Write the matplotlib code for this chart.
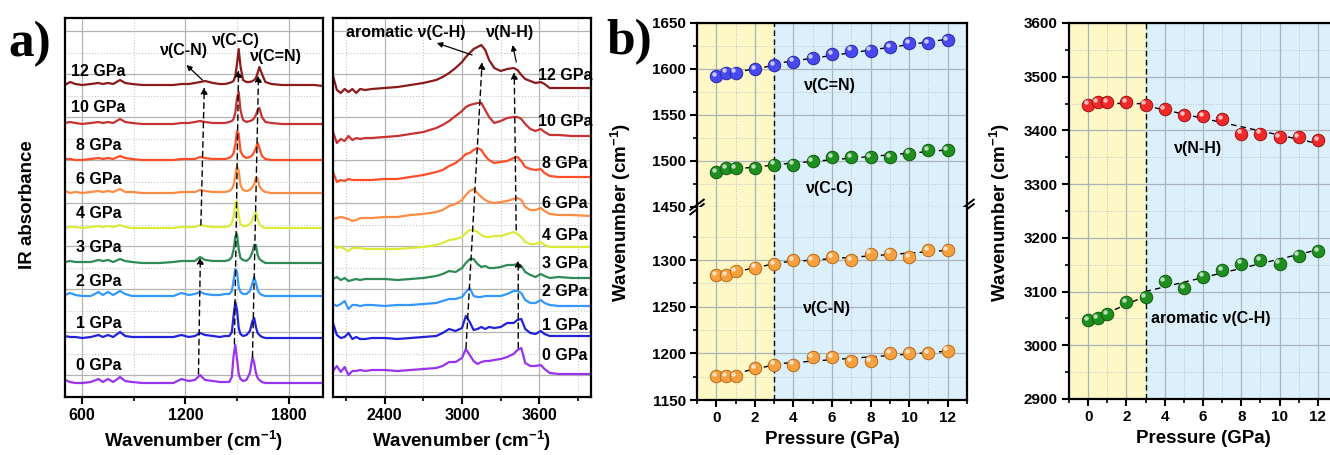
import numpy as np
import matplotlib.pyplot as plt
from matplotlib import transforms
from matplotlib.ticker import MultipleLocator, FixedLocator

plt.rcParams['font.family'] = ['Liberation Sans', 'DejaVu Sans']
plt.rcParams['font.weight'] = 'bold'
plt.rcParams['axes.labelweight'] = 'bold'
plt.rcParams['mathtext.fontset'] = 'custom'
plt.rcParams['mathtext.rm'] = 'Liberation Sans:bold'
plt.rcParams['mathtext.bf'] = 'Liberation Sans:bold'
plt.rcParams['mathtext.default'] = 'bf'

# ---------------- a) IR spectra ----------------
ir_labels = ['0 GPa', '1 GPa', '2 GPa', '3 GPa', '4 GPa', '6 GPa', '8 GPa', '10 GPa', '12 GPa']
ir_colors = ['#9933ee', '#2222dd', '#3399ff', '#2e8b57', '#dcea3a',
             '#ff8c42', '#ff4d26', '#c83232', '#8b1a1a']

# low wavenumber window (cm-1) and band heights above each baseline
wn_low = [500, 530, 560, 600, 650, 695, 720, 750, 780, 820, 850, 890, 950, 1050, 1130,
          1177, 1220, 1255, 1285, 1315, 1360, 1400, 1430, 1455, 1470, 1480, 1490, 1500,
          1510, 1520, 1535, 1555, 1575, 1590, 1600, 1610, 1620, 1630, 1645, 1665, 1700,
          1760, 1850, 1950, 2000]
low_0 = [3, 1, 0, 0, 1, 4, 1, 4, 1, 6, 2, 1, 0, 0, 0, 4, 2, 3, 8, 3, 2, 1, 1, 1, 6, 27, 38, 24, 9, 4,
         2, 3, 10, 26, 20, 10, 5, 3, 1, 0, 0, 0, 0, 0, 0]
low_1 = [2, 1, 1, 0, 1, 3, 1, 3, 1, 6, 2, 1, 1, 1, 1, 3, 1, 2, 5, 3, 2, 1, 2, 2, 6, 22, 36, 28, 10, 4,
         2, 3, 7, 17, 20, 11, 5, 3, 1, 0, 0, 0, 0, 0, 0]
low_2 = [1, 3, 1, 0, 0, 4, 1, 4, 1, 5, 2, 0, 0, 0, 0, 3, 1, 2, 4, 2, 1, 1, 2, 2, 5, 15, 27, 24, 9, 4,
         2, 2, 5, 13, 19, 13, 6, 3, 1, 0, 0, 0, 0, 0, 0]
low_3 = [1, 2, 1, 1, 1, 3, 2, 3, 1, 4, 2, 1, 0, 0, 1, 2, 2, 2, 6, 3, 2, 2, 2, 3, 6, 13, 26, 29, 14, 5,
         3, 2, 5, 11, 18, 18, 8, 4, 2, 0, 0, 0, 0, 0, 0]
low_4 = [0, 1, 1, 0, 1, 2, 1, 2, 1, 3, 1, 0, 0, 0, 0, 1, 1, 1, 3, 2, 1, 1, 1, 2, 5, 11, 24, 27, 12, 4,
         2, 2, 4, 8, 13, 16, 9, 4, 1, 0, 0, 0, 0, 0, 0]
low_6 = [2, 0, 1, 0, 1, 2, 1, 2, 1, 4, 1, 1, 0, 0, 0, 1, 1, 1, 3, 2, 1, 1, 1, 2, 4, 8, 17, 27, 22, 8,
         3, 2, 3, 6, 9, 15, 15, 7, 3, 1, 0, 0, 0, 0, 0]
low_8 = [1, 1, 0, 0, 1, 2, 1, 2, 1, 4, 2, 1, 0, 0, 0, 1, 1, 1, 3, 2, 1, 1, 1, 2, 4, 7, 15, 29, 26, 9,
         4, 2, 3, 5, 8, 12, 17, 12, 4, 1, 0, 0, 0, 0, 0]
low_10 = [1, 2, 1, 0, 1, 2, 1, 2, 1, 5, 2, 1, 0, 0, 0, 1, 1, 2, 3, 2, 1, 1, 1, 2, 3, 5, 11, 26, 32, 14,
          4, 2, 3, 4, 6, 9, 14, 16, 7, 2, 1, 0, 0, 0, 0]
low_12 = [0, 3, 1, 0, 1, 2, 1, 2, 1, 5, 2, 1, 0, 0, 0, 1, 1, 2, 3, 4, 2, 1, 1, 2, 3, 4, 9, 21, 36, 19,
          5, 3, 3, 4, 5, 7, 12, 18, 11, 3, 1, 0, 0, 0, -1]
low_offsets = [14, 59, 101, 134, 169, 204, 237, 273, 312]

# high wavenumber window
wn_high = [2000, 2030, 2060, 2090, 2120, 2150, 2180, 2210, 2250, 2300, 2400, 2500, 2600, 2700,
           2800, 2850, 2900, 2950, 3000, 3030, 3060, 3090, 3120, 3150, 3180, 3210, 3250, 3300,
           3350, 3400, 3430, 3460, 3490, 3530, 3570, 3610, 3640, 3680, 3750, 3850, 4000]
high_0 = [0, 5, -1, 4, -4, 0, 0, 1, 0, 1, 1, 0, 1, 2, 3, 5, 9, 9, 13, 22, 16, 10, 7, 9, 10, 10, 11, 12,
          14, 17, 21, 23, 8, 5, 5, 6, 2, -2, -3, -3, -3]
high_1 = [16, 4, 1, 2, 6, 0, 2, 0, 0, 1, 1, 0, 1, 2, 3, 6, 10, 8, 11, 23, 17, 9, 10, 12, 10, 12, 11, 12,
          16, 16, 19, 20, 10, 6, 5, 8, 5, 3, 3, 3, 3]
high_2 = [2, 0, 2, 5, -3, 1, 1, 0, 1, 1, 0, 1, 1, 2, 3, 5, 7, 7, 9, 14, 18, 10, 9, 9, 10, 10, 10, 10,
          12, 15, 15, 13, 6, 3, 3, 6, 3, 1, 0, 0, 0]
high_3 = [1, 3, 0, 2, -1, 0, 1, 0, 1, 1, 1, 0, 1, 2, 4, 6, 9, 8, 12, 17, 21, 21, 16, 13, 14, 12, 12, 13,
          15, 15, 16, 14, 8, 5, 3, 6, 4, 2, 3, 2, 2]
high_4 = [4, 1, 2, 0, -2, 1, 1, 1, 0, 0, 0, 0, 1, 2, 4, 6, 9, 10, 12, 16, 19, 19, 17, 14, 12, 12, 13, 13,
          15, 17, 15, 12, 7, 5, 5, 7, 4, 2, 2, 2, 2]
high_6 = [0, 1, 2, 1, 0, -2, -1, 1, 1, 1, 2, 2, 4, 5, 7, 9, 13, 15, 19, 24, 28, 30, 26, 22, 19, 17, 16,
          17, 18, 20, 21, 19, 12, 9, 9, 11, 8, 5, 4, 4, 3]
high_8 = [8, -2, 0, -1, 1, 0, 0, 0, 0, 0, 1, 1, 3, 5, 8, 10, 14, 17, 22, 26, 27, 30, 32, 30, 24, 20, 17,
          18, 19, 22, 23, 19, 13, 11, 10, 11, 7, 4, 3, 3, 3]
high_10 = [6, -5, -1, -3, 2, -2, 0, -1, 0, 0, 1, 2, 4, 6, 10, 13, 17, 22, 27, 31, 33, 34, 35, 35, 28,
           21, 15, 17, 20, 21, 21, 19, 14, 9, 7, 9, 6, 3, 3, 2, 2]
high_12 = [14, 0, -3, 1, -2, 1, -3, 1, 0, 1, 2, 3, 5, 7, 10, 13, 17, 22, 28, 33, 37, 41, 43, 45, 40,
           30, 22, 19, 21, 22, 20, 15, 11, 9, 7, 8, 6, 2, 2, 2, 2]
high_offsets = [26, 58, 91, 117, 148, 178, 217, 259, 307]

low_spectra = [low_0, low_1, low_2, low_3, low_4, low_6, low_8, low_10, low_12]
high_spectra = [high_0, high_1, high_2, high_3, high_4, high_6, high_8, high_10, high_12]

# ---------------- b) band positions vs pressure ----------------
pressure = [0, 0.5, 1, 2, 3, 4, 5, 6, 7, 8, 9, 10, 11, 12]
nu_cn_double = [1592, 1596, 1596, 1600, 1604, 1608, 1612, 1616, 1620, 1620, 1624, 1628, 1628, 1631]
nu_cc = [1488, 1492, 1492, 1492, 1496, 1496, 1500, 1504, 1504, 1504, 1504, 1508, 1512, 1512]
nu_cn_a = [1284, 1284, 1288, 1292, 1296, 1300, 1300, 1303, 1300, 1307, 1307, 1303, 1311, 1311]
nu_cn_b = [1176, 1176, 1176, 1184, 1188, 1188, 1196, 1196, 1192, 1192, 1200, 1200, 1200, 1203]
nu_nh = [3448, 3452, 3452, 3452, 3448, 3440, 3428, 3426, 3421, 3394, 3394, 3388, 3387, 3382]
nu_ch = [3047, 3050, 3058, 3080, 3090, 3120, 3107, 3128, 3140, 3152, 3159, 3152, 3167, 3175]
phase_split = 3

W, H = 1330, 455


def box(x0, y0, x1, y1):
    # pixel box, top-left origin -> figure fraction rect
    return [x0 / W, 1 - y1 / H, (x1 - x0) / W, (y1 - y0) / H]


fig = plt.figure(figsize=(W / 100, H / 100), dpi=100)

grid_major = [22, 65, 108, 151, 194, 237, 280, 323, 366]
grid_minor = [43, 86, 129, 172, 215, 258, 301, 344]


def spectra_axes(rect, xlim, majors, minor_step):
    ax = fig.add_axes(rect)
    ax.set_xlim(*xlim)
    ax.set_ylim(0, 379)
    ax.xaxis.set_major_locator(FixedLocator(majors))
    ax.xaxis.set_minor_locator(MultipleLocator(minor_step))
    ax.yaxis.set_major_locator(FixedLocator(grid_major))
    ax.yaxis.set_minor_locator(FixedLocator(grid_minor))
    ax.grid(which='major', color='#b4b4b4', lw=0.9)
    ax.grid(which='minor', color='#c8c8c8', lw=0.8, ls=':')
    ax.set_axisbelow(True)
    ax.tick_params(axis='x', which='major', direction='out', length=5, width=1.5, labelsize=11.5, pad=3)
    ax.tick_params(axis='x', which='minor', direction='out', length=3, width=1.2)
    ax.tick_params(axis='y', which='both', length=0, labelleft=False)
    for s in ax.spines.values():
        s.set_linewidth(1.6)
    ax.set_xlabel('Wavenumber (cm$^{-1}$)', fontsize=13.5, labelpad=4)
    return ax


def dashed_arrow(ax, tail, head):
    ax.annotate('', xy=head, xytext=tail,
                arrowprops=dict(arrowstyle='-|>', ls=(0, (4, 3)), lw=1.0, color='black',
                                mutation_scale=10, shrinkA=0, shrinkB=0))


def thin_arrow(ax, tail, head):
    ax.annotate('', xy=head, xytext=tail,
                arrowprops=dict(arrowstyle='-|>', lw=0.9, color='black',
                                mutation_scale=8, shrinkA=0, shrinkB=0))


# a) low window
axA = spectra_axes(box(65, 18, 323, 397), (500, 2000), [600, 1200, 1800], 300)
for lab, col, off, ys in zip(ir_labels, ir_colors, low_offsets, low_spectra):
    axA.plot(wn_low, np.array(ys) + off, color=col, lw=1.6)
lab_x = [565, 565, 565, 565, 565, 565, 565, 536, 536]
lab_y = [32, 73, 116, 149, 184, 218, 251, 289, 326]
for lab, x, y in zip(ir_labels, lab_x, lab_y):
    axA.text(x, y, lab, fontsize=11.5, ha='left', va='center')
axA.text(1194, 347, 'ν(C-N)', fontsize=11.5, ha='center', va='center')
axA.text(1491, 357, 'ν(C-C)', fontsize=11.5, ha='center', va='center')
axA.text(1724, 340, 'ν(C=N)', fontsize=11.5, ha='center', va='center')
thin_arrow(axA, (1299, 317), (1206, 332))
dashed_arrow(axA, (1276, 23), (1287, 140))
dashed_arrow(axA, (1290, 172), (1310, 310))
dashed_arrow(axA, (1485, 53), (1509, 327))
dashed_arrow(axA, (1590, 40), (1625, 322))

# a) high window
axB = spectra_axes(box(333, 18, 591, 397), (2000, 4000), [2400, 3000, 3600], 300)
for lab, col, off, ys in zip(ir_labels, ir_colors, high_offsets, high_spectra):
    axB.plot(wn_high, np.array(ys) + off, color=col, lw=1.6)
lab_x = [3623, 3623, 3623, 3623, 3623, 3623, 3623, 3592, 3592]
lab_y = [42, 71, 105, 134, 162, 194, 233, 275, 322]
for lab, x, y in zip(ir_labels, lab_x, lab_y):
    axB.text(x, y, lab, fontsize=11.5, ha='left', va='center')
axB.text(2564, 364, 'aromatic ν(C-H)', fontsize=11.5, ha='center', va='center')
axB.text(3374, 364, 'ν(N-H)', fontsize=11.5, ha='center', va='center')
thin_arrow(axB, (3078, 342), (2805, 354))
thin_arrow(axB, (3421, 335), (3392, 352))
dashed_arrow(axB, (3031, 49), (3156, 335))
dashed_arrow(axB, (3436, 49), (3436, 137))
dashed_arrow(axB, (3420, 167), (3405, 325))

fig.text(28 / W, 1 - 205 / H, 'IR absorbance', rotation=90, fontsize=13.5, ha='center',
         va='center', weight='bold')


# b) helpers
def pressure_axes(rect, ylim, yticks, yminor, show_x=True):
    ax = fig.add_axes(rect)
    ax.set_xlim(-1, 13)
    ax.set_ylim(*ylim)
    ax.xaxis.set_major_locator(MultipleLocator(2))
    ax.xaxis.set_minor_locator(MultipleLocator(1))
    ax.yaxis.set_major_locator(FixedLocator(yticks))
    ax.yaxis.set_minor_locator(FixedLocator(yminor))
    ax.axvspan(-1, phase_split, color='#fdf8c6', lw=0, zorder=0.1)
    ax.axvspan(phase_split, 13, color='#dcf0fc', lw=0, zorder=0.1)
    ax.axvline(phase_split, color='black', lw=1.0, ls=(0, (4, 2.5)), zorder=2)
    ax.grid(which='major', color='#a9b3ba', lw=0.9)
    ax.grid(which='minor', color='#b9c3ca', lw=0.7, ls=':')
    ax.set_axisbelow(True)
    ax.tick_params(which='major', direction='out', length=5, width=1.5, labelsize=11, pad=3)
    ax.tick_params(which='minor', direction='out', length=3, width=1.2)
    ax.tick_params(top=False, right=False, which='both')
    if not show_x:
        ax.tick_params(axis='x', which='both', bottom=False, labelbottom=False)
    for s in ax.spines.values():
        s.set_linewidth(1.6)
    return ax


def balls(ax, x, y, color, edge):
    ax.plot(x, y, 'o', ms=9, mfc=color, mec=edge, mew=0.7, zorder=4, clip_on=False)
    hl = transforms.offset_copy(ax.transData, fig=fig, x=-1.6, y=1.6, units='points')
    ax.plot(x, y, 'o', ms=3.2, mfc='white', mec='none', alpha=0.7, transform=hl, zorder=5,
            clip_on=False)


def phase_fit(ax, x, y):
    x = np.array(x, float)
    y = np.array(y, float)
    for sel in (x <= phase_split, x >= phase_split):
        k, b = np.polyfit(x[sel], y[sel], 1)
        xs = np.array([x[sel].min(), x[sel].max()])
        ax.plot(xs, k * xs + b, color='black', lw=1.0, ls=(0, (4, 3)), zorder=3)


# b) left panel, broken y axis
top_px, brk_px, bot_px = 23, 207, 400
axT = pressure_axes(box(697, top_px, 967, brk_px), (1450, 1650),
                    [1450, 1500, 1550, 1600, 1650], [1475, 1525, 1575, 1625], show_x=False)
axL = pressure_axes(box(697, brk_px, 967, bot_px), (1150, 1357),
                    [1150, 1200, 1250, 1300], [1175, 1225, 1275, 1325])
axT.spines['bottom'].set_visible(False)
axL.spines['top'].set_visible(False)
for ax, ys, c, e in [(axT, nu_cn_double, '#4848f0', '#2a2aa0'), (axT, nu_cc, '#1f8f1f', '#0f5a0f'),
                     (axL, nu_cn_a, '#f7a040', '#b86a18'), (axL, nu_cn_b, '#f7a040', '#b86a18')]:
    phase_fit(ax, pressure, ys)
    balls(ax, pressure, ys, c, e)
axT.text(5.9, 1582, 'ν(C=N)', fontsize=11.5, ha='center', va='center')
axT.text(5.9, 1470, 'ν(C-C)', fontsize=11.5, ha='center', va='center')
axL.text(5.75, 1248, 'ν(C-N)', fontsize=11.5, ha='center', va='center')
# break marks
for xa in (0, 1):
    for dy in (-0.012, 0.012):
        axT.plot([xa - 0.025, xa + 0.025], [dy - 0.028, dy + 0.028], transform=axT.transAxes,
                 color='black', lw=1.4, clip_on=False, zorder=6)
axL.set_xlabel('Pressure (GPa)', fontsize=13.5, labelpad=4)
fig.text(621 / W, 1 - 212 / H, 'Wavenumber (cm$^{-1}$)', rotation=90, fontsize=13.5,
         ha='center', va='center', weight='bold')

# b) right panel
axR = pressure_axes(box(1069, 23, 1337, 399), (2900, 3600),
                    [2900, 3000, 3100, 3200, 3300, 3400, 3500, 3600],
                    [2950, 3050, 3150, 3250, 3350, 3450, 3550])
for ys, c, e in [(nu_nh, '#f02a2a', '#a01010'), (nu_ch, '#1f8f1f', '#0f5a0f')]:
    phase_fit(axR, pressure, ys)
    balls(axR, pressure, ys, c, e)
axR.text(5.75, 3367, 'ν(N-H)', fontsize=11.5, ha='center', va='center')
axR.text(6.4, 3050, 'aromatic ν(C-H)', fontsize=11.5, ha='center', va='center')
axR.set_xlabel('Pressure (GPa)', fontsize=13.5, labelpad=4)
fig.text(1000 / W, 1 - 212 / H, 'Wavenumber (cm$^{-1}$)', rotation=90, fontsize=13.5,
         ha='center', va='center', weight='bold')

# panel letters
fig.text(8 / W, 1 - 56 / H, 'a)', fontsize=37, family='Liberation Serif', weight='bold',
         va='baseline')
fig.text(606 / W, 1 - 54 / H, 'b)', fontsize=37, family='Liberation Serif', weight='bold',
         va='baseline')

fig.savefig('out.png', dpi=100)
